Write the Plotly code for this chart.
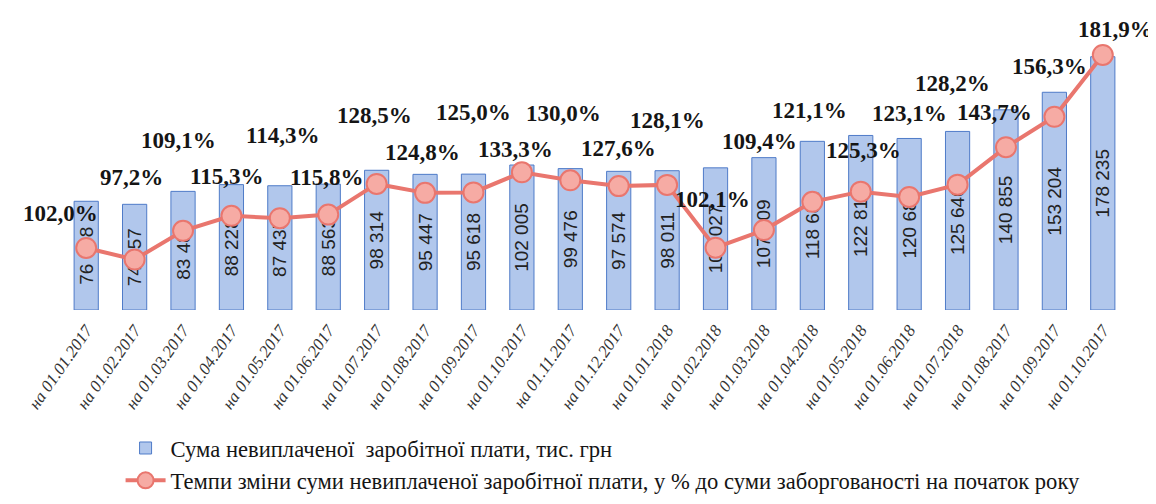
import plotly.graph_objects as go

categories = ["на 01.01.2017", "на 01.02.2017", "на 01.03.2017", "на 01.04.2017",
              "на 01.05.2017", "на 01.06.2017", "на 01.07.2017", "на 01.08.2017",
              "на 01.09.2017", "на 01.10.2017", "на 01.11.2017", "на 01.12.2017",
              "на 01.01.2018", "на 01.02.2018", "на 01.03.2018", "на 01.04.2018",
              "на 01.05.2018", "на 01.06.2018", "на 01.07.2018", "на 01.08.2017",
              "на 01.09.2017", "на 01.10.2017"]
debt = [76498, 74357, 83481, 88228, 87435, 88563, 98314, 95447, 95618, 102005, 99476,
        97574, 98011, 100027, 107209, 118681, 122813, 120685, 125646, 140855, 153204, 178235]
rate = [102.0, 97.2, 109.1, 115.3, 114.3, 115.8, 128.5, 124.8, 125.0, 133.3, 130.0,
        127.6, 128.1, 102.1, 109.4, 121.1, 125.3, 123.1, 128.2, 143.7, 156.3, 181.9]

series_bar = "Сума невиплаченої  заробітної плати, тис. грн"
series_line = "Темпи зміни суми невиплаченої заробітної плати, у % до суми заборгованості на початок року"

# label offsets (pixels) for the percentage labels (style only)
lbl_dx = [-26, -3, -5, -5, 3, -2, -2, -3, 0, -6, -7, 0, 0, -3, -4, -3, 3, 0, -5, -11, -5, 13]
lbl_dy = [34, 82, 90, 39, 83, 37, 68, 40, 80, 23, 67, 38, 64, 48, 89, 91, 41, 83, 101, 35, 50, 25]

SERIF = "serif"

x = list(range(len(categories)))

def fmt_thousands(v):
    return f"{v:,}".replace(",", " ")

def fmt_pct(v):
    return f"{v:.1f}".replace(".", ",") + "%"

fig = go.Figure()
fig.add_trace(go.Bar(
    x=x, y=debt, name=series_bar,
    marker=dict(color="#B1C7EC", line=dict(color="#4F7BC8", width=1)),
    text=[fmt_thousands(v) for v in debt],
    textposition="inside", insidetextanchor="middle", textangle=-90,
    constraintext="none",
    textfont=dict(family="Liberation Sans", size=19, color="#222222"),
    width=0.5,
))
fig.add_trace(go.Scatter(
    x=x, y=rate, name=series_line, yaxis="y2", mode="lines+markers",
    line=dict(color="#E9766E", width=4),
    marker=dict(size=20, color="#F6ABA4", line=dict(color="#E9766E", width=2)),
))

for i, v in enumerate(rate):
    fig.add_annotation(
        x=x[i], y=v, yref="y2", text="<b>" + fmt_pct(v) + "</b>", showarrow=False,
        xshift=lbl_dx[i], yshift=lbl_dy[i],
        font=dict(family=SERIF, size=23, color="#151515"),
    )

fig.update_layout(
    width=1156, height=504,
    margin=dict(l=54, r=37, t=10, b=193),
    paper_bgcolor="white", plot_bgcolor="white",
    showlegend=True,
    legend=dict(x=0.055, y=-0.40, xanchor="left", yanchor="top", orientation="v",
                font=dict(family=SERIF, size=22.6, color="#151515"),
                tracegroupgap=8, itemwidth=40, bgcolor="rgba(0,0,0,0)"),
    xaxis=dict(tickmode="array", tickvals=x, ticktext=categories, tickangle=-55,
               range=[-0.5, len(x) - 0.5], showgrid=False, zeroline=False, showline=False,
               ticklabelstandoff=6,
               tickfont=dict(family=SERIF, size=17, color="#333333", style="italic")),
    yaxis=dict(range=[0, 205460], visible=False, showgrid=False),
    yaxis2=dict(range=[76.3, 197.2], overlaying="y", visible=False, showgrid=False),
    bargap=0.5,
)

fig.write_html("out.html")
